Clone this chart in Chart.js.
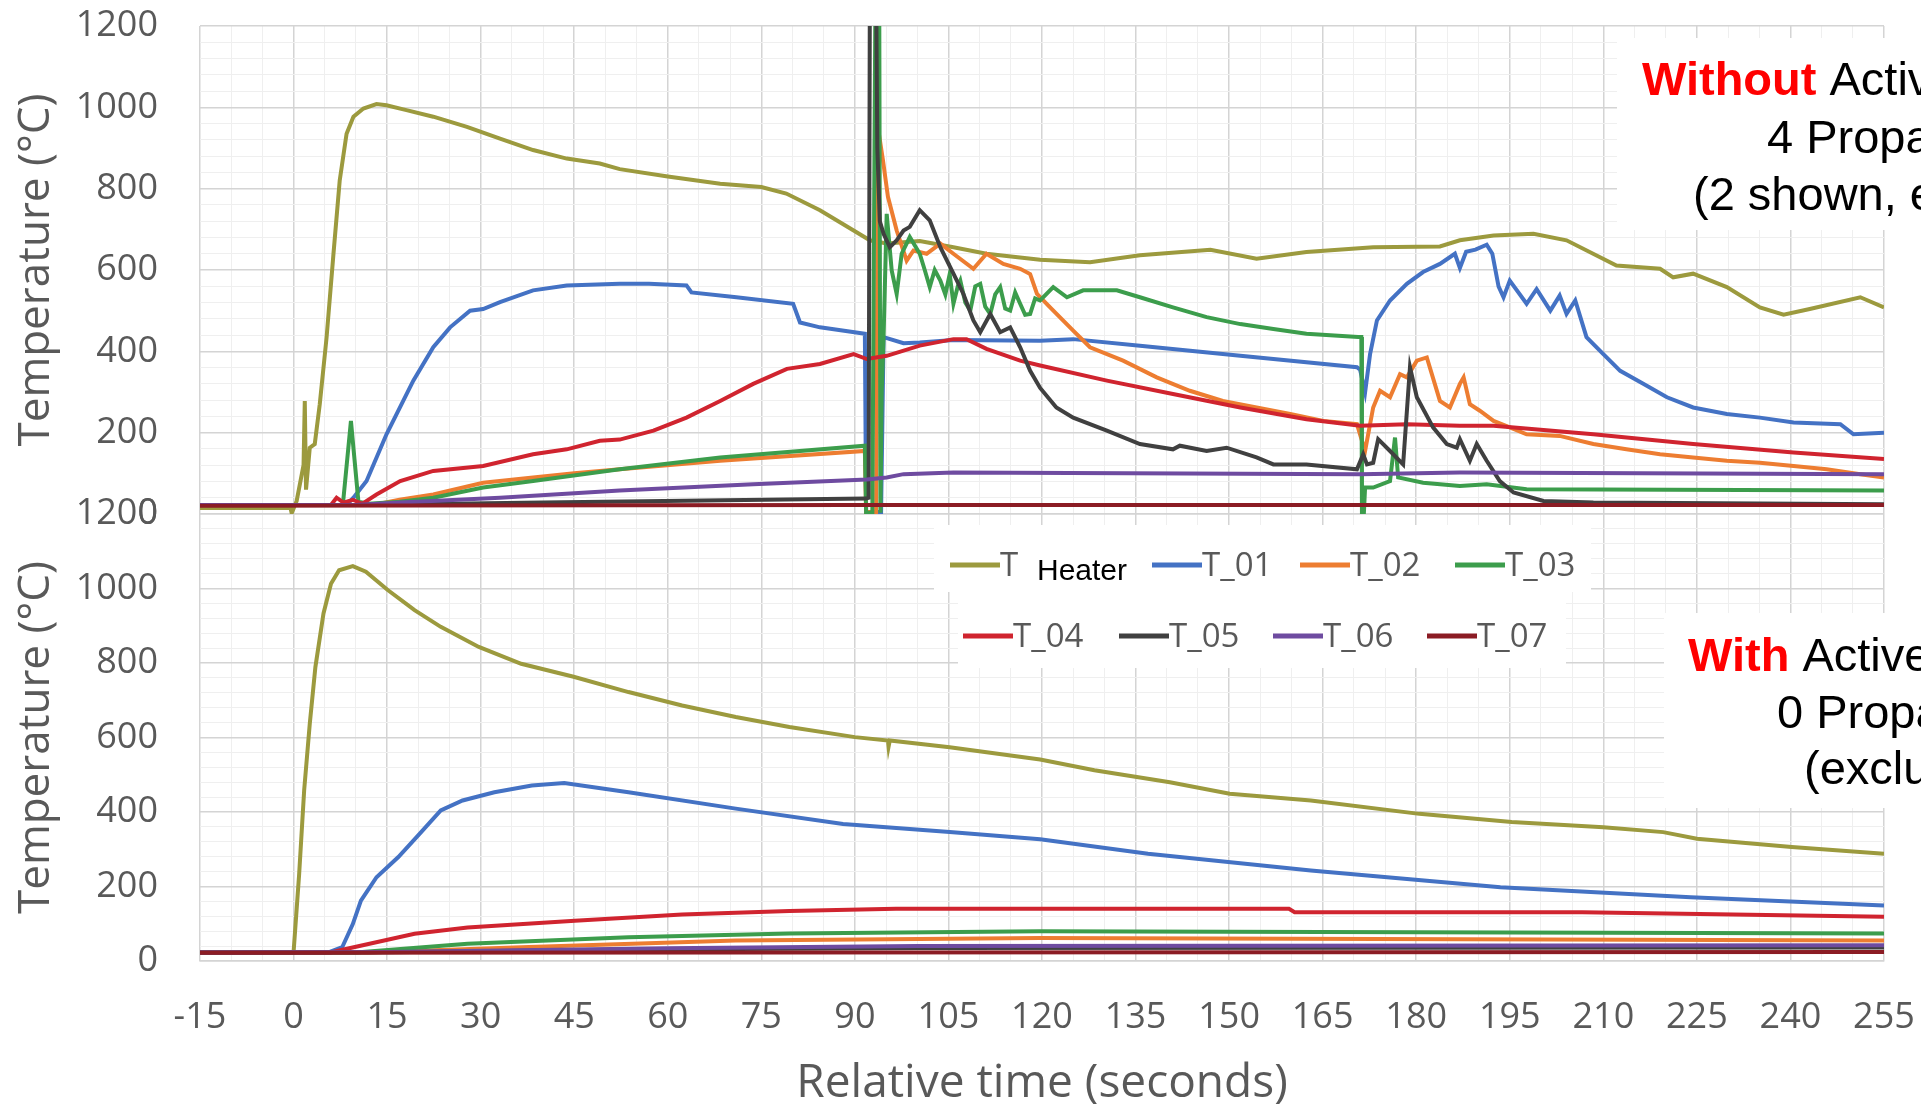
<!DOCTYPE html>
<html>
<head>
<meta charset="utf-8">
<script src="https://cdn.jsdelivr.net/npm/chart.js@4.4.0/dist/chart.umd.min.js"></script>
<style>
  html, body { margin: 0; padding: 0; background: #fff; }
  #wrap { width: 1921px; height: 1111px; }
</style>
</head>
<body>
<div id="wrap"><canvas id="tempChart" width="1921" height="1111"></canvas></div>
<script>
const seriesNames = ['T_Heater', 'T_01', 'T_02', 'T_03', 'T_04', 'T_05', 'T_06', 'T_07'];
const seriesColors = ['#9c9a3e', '#4472c4', '#ed7d31', '#3c9d4c', '#d0242f', '#404040', '#6e4ba0', '#8b1c24'];
const xTickLabels = [-15, 0, 15, 30, 45, 60, 75, 90, 105, 120, 135, 150, 165, 180, 195, 210, 225, 240, 255];
const yTickLabels = [0, 200, 400, 600, 800, 1000, 1200];

// top panel: without active cooling  [time s, temp C]
const heaterTop = [[-15,15],[-0.5,15],[-0.3,2],[0.5,32],[1.6,120],[1.8,278],[2.0,60],[2.6,163],[3.4,172],[4.2,270],[5.3,435],[6.4,640],[7.4,820],[8.5,935],[9.6,977],[11.2,997],[13.3,1008],[14.9,1005],[18.1,993],[22.4,977],[27.8,952],[33.1,923],[38.4,895],[43.8,874],[49.1,862],[52.3,848],[60,830],[68.4,812],[75,804],[79,788],[84.4,747],[89.8,697],[92.4,673],[95.1,665],[100.4,671],[105.8,656],[111.1,640],[119.7,625],[127.7,619],[135.7,636],[147,650],[154.4,628],[162.4,644],[173.1,656],[183.8,658],[187,673],[192.4,685],[198.8,689],[204.1,673],[212.1,611],[219.1,603],[221.2,582],[224.4,591],[229.8,558],[235.1,508],[238.9,490],[243.1,504],[251.2,533],[255,508]];
const t01Top = [[-15,22],[8.5,22],[9.6,40],[11.7,81],[14.9,196],[19.2,328],[22.4,410],[25.1,459],[28.3,500],[30.4,504],[33.1,521],[38.4,550],[43.8,562],[52.3,566],[57,566],[63,562],[63.8,545],[71,533],[80.1,517],[81.2,471],[84.4,459],[91.6,443],[91.8,5],[94.2,5],[94.6,435],[97.8,420],[100.4,422],[105.8,428],[119.7,426],[125,430],[135.7,414],[151.8,389],[170.5,361],[171,355],[171.8,299],[172.6,393],[173.7,476],[175.8,525],[178.5,566],[181.1,595],[183.8,615],[186.2,640],[187,605],[188,645],[189.5,650],[191.3,662],[192.2,640],[193.2,560],[194,533],[195,574],[197.7,517],[199.3,553],[201.5,500],[203,537],[204.1,492],[205.5,525],[207.3,435],[210,393],[212.7,352],[216.4,320],[220.2,287],[224.4,262],[229.8,246],[235.1,237],[240.5,225],[248,221],[250.1,196],[255,200]];
const t02Top = [[-15,22],[12.8,22],[17,35],[22.4,48],[30.4,77],[38.4,90],[45,100],[52.3,110],[68.4,131],[91.6,155],[91.8,5],[93.4,5],[93.7,950],[94.5,870],[95.3,780],[96.7,697],[98.3,623],[99.4,648],[101.5,640],[103.7,665],[105.8,640],[109,603],[111.1,640],[113.8,615],[116.5,603],[118.1,590],[119.2,541],[121.3,508],[125,451],[127.7,410],[133,377],[138.4,336],[143.7,303],[149,278],[154.4,262],[159.8,246],[165.1,229],[170.5,221],[171.8,155],[173.1,262],[174.2,303],[175.8,287],[177.4,344],[178.5,336],[180.1,377],[181.7,385],[183.8,278],[185.4,262],[187,320],[187.6,336],[188.6,270],[190.2,254],[192.4,229],[195,213],[197.7,196],[203,192],[208.4,172],[213.7,159],[219.1,147],[224.4,139],[229.8,131],[235.1,126],[240.5,118],[245.8,110],[251.2,98],[255,90]];
const t03Top = [[-15,22],[7.9,22],[9.2,229],[10.4,30],[12,25],[17,30],[22.4,40],[30.4,65],[38.4,81],[52.3,110],[68.4,139],[91.6,168],[91.8,3],[92.8,3],[93.3,1300],[93.9,1300],[94.1,3],[94.3,300],[94.6,435],[95.1,738],[95.9,599],[96.7,541],[97.5,640],[98.8,681],[100.4,640],[101.2,600],[102,558],[102.8,600],[103.7,574],[104.5,540],[105.2,590],[105.8,517],[106.5,560],[106.9,574],[107.7,520],[108.5,500],[109.3,560],[110.1,566],[110.9,510],[111.7,492],[112.5,540],[113.3,558],[114.1,505],[114.9,500],[115.7,545],[116.5,517],[117.3,490],[118.1,492],[118.9,530],[119.7,525],[121.8,558],[124,533],[126.6,550],[132,550],[135.7,533],[141,508],[146.4,484],[151.8,467],[157.1,455],[162.4,443],[170.7,435],[171.2,435],[171.3,0],[171.6,0],[171.8,65],[173.1,65],[175.8,81],[176.6,188],[177.1,90],[181.1,77],[187,69],[191.3,73],[197.7,61],[255,58]];
const t04Top = [[-15,22],[6,22],[6.9,40],[8,28],[9.5,35],[11,25],[13.3,48],[17.1,81],[22.4,106],[30.4,118],[38.4,147],[43.8,159],[49.1,180],[52.3,183],[57.7,205],[63,237],[68.4,278],[73.7,320],[79.1,357],[84.4,369],[89.8,393],[91.9,381],[95.1,389],[100.4,414],[105.8,430],[107.9,430],[111.1,406],[116.5,377],[119.7,365],[130.4,328],[141,295],[151.8,262],[162.4,233],[171,217],[178.5,221],[187,217],[192.4,217],[208.4,196],[224.4,172],[240.5,151],[255,135]];
const t05Top = [[-15,22],[10,22],[40,28],[91.8,38],[92.2,40],[92.4,1300],[93.4,1300],[93.6,900],[94,720],[94.6,689],[95.6,656],[96.7,673],[97.8,697],[98.8,706],[100.4,747],[102,722],[103.7,656],[105.8,591],[107.4,541],[109,476],[110.1,447],[111.7,492],[113.3,447],[114.9,459],[116.5,410],[118.1,352],[119.7,310],[122.3,262],[125,237],[130.4,205],[135.7,172],[141,159],[142.1,168],[146.4,155],[149.6,163],[154.4,139],[157.1,122],[162.4,122],[170.5,110],[171.5,147],[172.1,122],[173.1,126],[173.9,184],[175.8,155],[177.9,122],[179,361],[180.1,287],[182.7,213],[184.9,172],[186.5,163],[187,184],[188.6,131],[189.7,172],[191.3,131],[193.4,81],[195.6,53],[200.4,32],[208.4,28],[255,24]];
const t06Top = [[-15,22],[10,22],[17.1,28],[33.1,40],[52.3,58],[73.7,73],[91.9,85],[95.1,90],[97.8,98],[105.8,102],[171,98],[187,102],[255,98]];
const t07Top = [[-15,20],[90,22],[255,22]];

// bottom panel: with active cooling
const heaterBot = [[-15,23],[0,23],[0.9,234],[1.7,458],[2.6,637],[3.5,789],[4.8,933],[6,1013],[7.3,1049],[9.5,1060],[11.6,1045],[15.1,996],[19.4,942],[23.6,897],[29.7,843],[36.5,798],[44.9,763],[53.7,722],[62.3,686],[70.9,655],[79.5,628],[90,601],[95.3,592],[95.4,575],[95.6,592],[105.2,574],[119.7,541],[128.4,512],[140.5,480],[150.1,449],[163.1,431],[180.5,395],[195.3,373],[210,359],[219.6,346],[225,328],[240.2,306],[255,288]];
const t01Bot = [[-15,23],[5.6,23],[7.8,37],[9.5,99],[10.8,162],[13.3,225],[16.8,279],[20.2,341],[23.6,404],[27.1,431],[32.2,453],[38.2,471],[43.4,478],[53.7,453],[70.9,409],[88.1,368],[105.2,346],[119.7,327],[137,288],[163.1,243],[193.5,198],[224,171],[255,149]];
const t02Bot = [[-15,23],[12,23],[36.5,37],[70.9,55],[119.7,62],[255,55]];
const t03Bot = [[-15,23],[10,23],[27.9,46],[53.7,64],[79.5,74],[119.7,80],[255,74]];
const t04Bot = [[-15,23],[6,23],[7.3,28],[19.4,73],[27.9,90],[45.1,108],[62.3,125],[79.5,134],[96.6,140],[119.7,140],[159.6,140],[160.5,131],[206.6,131],[255,119]];
const t05Bot = [[-15,23],[12,23],[50,30],[100,35],[255,36]];
const t06Bot = [[-15,23],[15,24],[60,34],[100,40],[255,42]];
const t07Bot = [[-15,22],[255,24]];

const topSeries = [heaterTop, t01Top, t02Top, t03Top, t04Top, t05Top, t06Top, t07Top];
const botSeries = [heaterBot, t01Bot, t02Bot, t03Bot, t04Bot, t05Bot, t06Bot, t07Bot];

const tickFont = { family: '"Open Sans", sans-serif', size: 36 };
const gray = '#595959';

function makeSets(list, axis) {
  return list.map((pts, i) => ({
    label: seriesNames[i],
    data: pts.map(p => ({ x: p[0], y: p[1] })),
    yAxisID: axis,
    borderColor: seriesColors[i],
    backgroundColor: seriesColors[i],
    borderWidth: 4,
    pointRadius: 0,
    tension: 0,
    order: 8 - i
  }));
}

function yScale(weight) {
  return {
    type: 'linear',
    position: 'left',
    stack: 'temp',
    stackWeight: weight,
    min: 0,
    max: 1200,
    border: { display: false },
    grid: {
      drawTicks: false,
      color: c => (yTickLabels.includes(c.tick.value) ? '#d4d4d4' : '#efefef'),
      lineWidth: c => (yTickLabels.includes(c.tick.value) ? 1.5 : 1)
    },
    ticks: {
      stepSize: 40,
      autoSkip: false,
      padding: 42,
      color: gray,
      font: tickFont,
      callback: v => (yTickLabels.includes(v) ? String(v) : '')
    },
    title: { display: true, text: 'Temperature (°C)', color: gray, font: { family: '"Open Sans", sans-serif', size: 44 }, padding: { top: 10, bottom: 0 } },
    afterFit: s => { s.width = 200; s.paddingTop = 0; s.paddingBottom = 0; }
  };
}

function drawNote(c, lines) {
  lines.forEach(l => {
    let px = l.x;
    if (l.red) {
      c.font = 'bold 47px "Liberation Sans", Arial, sans-serif';
      c.fillStyle = '#ff0000';
      c.fillText(l.red, px, l.y);
      px += c.measureText(l.red).width;
    }
    c.font = '47px "Liberation Sans", Arial, sans-serif';
    c.fillStyle = '#000';
    c.fillText(l.text, px, l.y);
  });
}

const overlay = {
  id: 'overlay',
  beforeDatasetsDraw(chart) {
    const c = chart.ctx;
    c.save();
    c.fillStyle = '#fff';
    c.fillRect(1617, 38, 304, 192);
    c.fillRect(1664, 613, 257, 195);
    c.fillRect(934, 525, 657, 67);
    c.fillRect(958, 592, 608, 76);
    c.restore();
  },
  afterDraw(chart) {
    const c = chart.ctx;
    c.save();
    c.textBaseline = 'alphabetic';
    c.textAlign = 'left';
    // legend
    const rowX = [[950, 1152, 1300, 1455], [963, 1119, 1273, 1427]];
    const rowY = [565, 636];
    seriesNames.forEach((name, i) => {
      const r = i < 4 ? 0 : 1;
      const x = rowX[r][i % 4];
      const y = rowY[r];
      c.strokeStyle = seriesColors[i];
      c.lineWidth = 5;
      c.beginPath();
      c.moveTo(x, y);
      c.lineTo(x + 50, y);
      c.stroke();
      c.font = '33px "Open Sans", sans-serif';
      c.fillStyle = gray;
      if (i === 0) {
        c.fillText('T', x + 50, y + 11);
        c.font = '30px "Liberation Sans", Arial, sans-serif';
        c.fillStyle = '#000';
        c.fillText('Heater', 1037, y + 15);
      } else {
        c.fillText(name, x + 50, y + 11);
      }
    });
    // notes
    drawNote(c, [
      { red: 'Without', text: ' Active Cooling', x: 1642, y: 95 },
      { text: '4 Propagations', x: 1767, y: 153 },
      { text: '(2 shown, excluding heater)', x: 1693, y: 210 }
    ]);
    drawNote(c, [
      { red: 'With', text: ' Active Cooling', x: 1688, y: 671 },
      { text: '0 Propagations', x: 1777, y: 728 },
      { text: '(excluding heater)', x: 1804, y: 784 }
    ]);
    c.restore();
  }
};

new Chart(document.getElementById('tempChart'), {
  type: 'line',
  data: { datasets: makeSets(botSeries, 'yBot').concat(makeSets(topSeries, 'yTop')) },
  options: {
    responsive: false,
    animation: false,
    devicePixelRatio: 1,
    parsing: false,
    layout: { padding: { top: 26, right: 37, left: 0, bottom: 0 } },
    plugins: { legend: { display: false }, tooltip: { enabled: false } },
    scales: {
      x: {
        type: 'linear',
        min: -15,
        max: 255,
        border: { color: '#d4d4d4', width: 1.5 },
        grid: {
          drawTicks: false,
          color: c => (xTickLabels.includes(c.tick.value) ? '#d4d4d4' : '#efefef'),
          lineWidth: c => (xTickLabels.includes(c.tick.value) ? 1.5 : 1)
        },
        ticks: {
          stepSize: 5,
          autoSkip: false,
          maxRotation: 0,
          padding: 35,
          color: gray,
          font: tickFont,
          callback: v => (xTickLabels.includes(v) ? String(v) : '')
        },
        title: { display: true, text: 'Relative time (seconds)', color: gray, font: { family: '"Open Sans", sans-serif', size: 46 }, padding: { top: 1, bottom: 0 } },
        afterFit: s => { s.height = 150; s.paddingLeft = 0; s.paddingRight = 0; }
      },
      yBot: yScale(447),
      yTop: yScale(488)
    }
  },
  plugins: [overlay]
});
</script>
</body>
</html>
